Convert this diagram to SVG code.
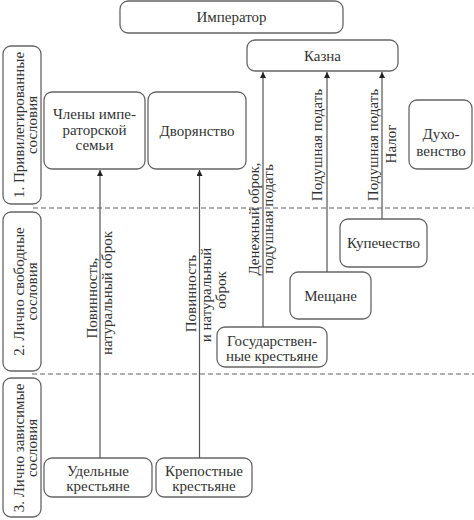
<svg xmlns="http://www.w3.org/2000/svg" width="474" height="520" viewBox="0 0 474 520">
<style>
.box{fill:#fff;stroke:#666;stroke-width:1.3}
.t{font-family:"Liberation Serif","DejaVu Serif",serif;font-size:15px;fill:#333;text-anchor:middle}
.conn{stroke:#555;stroke-width:1.2;fill:none}
.dash{stroke:#666;stroke-width:1.2;stroke-dasharray:5 3;fill:none}
</style>
<defs>
<marker id="ah" viewBox="0 0 10 10" refX="10" refY="5" markerWidth="8" markerHeight="6" markerUnits="userSpaceOnUse" orient="auto">
<path d="M0,0 L10,5 L0,10 Z" fill="#222"/>
</marker>
</defs>
<rect width="474" height="520" fill="#fff"/>

<g id="dividers">
<line class="dash" x1="33" y1="208" x2="474" y2="208"/>
<line class="dash" x1="32" y1="374" x2="474" y2="374"/>
</g>

<g id="side1">
<rect class="box" x="3" y="46" width="38" height="158" rx="8"/>
<text class="t" transform="rotate(-90)" x="-125" y="24">1. Привилегированные</text>
<text class="t" transform="rotate(-90)" x="-125" y="37">сословия</text>
</g>
<g id="side2">
<rect class="box" x="3" y="212" width="38" height="159" rx="8"/>
<text class="t" transform="rotate(-90)" x="-291.5" y="24">2. Лично свободные</text>
<text class="t" transform="rotate(-90)" x="-291.5" y="37">сословия</text>
</g>
<g id="side3">
<rect class="box" x="3" y="378" width="38" height="139" rx="8"/>
<text class="t" transform="rotate(-90)" x="-448" y="24">3. Лично зависимые</text>
<text class="t" transform="rotate(-90)" x="-448" y="37">сословия</text>
</g>

<g id="imperator">
<rect class="box" x="120" y="1" width="223" height="32" rx="8"/>
<text class="t" x="231.5" y="22">Император</text>
</g>
<g id="kazna">
<rect class="box" x="247" y="40" width="151" height="31" rx="8"/>
<text class="t" x="322.5" y="60.5">Казна</text>
</g>
<g id="chleny">
<rect class="box" x="44" y="92" width="101" height="77" rx="8"/>
<text class="t" x="94.5" y="119">Члены импе-</text>
<text class="t" x="94.5" y="134.5">раторской</text>
<text class="t" x="94.5" y="150">семьи</text>
</g>
<g id="dvoryanstvo">
<rect class="box" x="148" y="92" width="98" height="77" rx="8"/>
<text class="t" x="197" y="135.5">Дворянство</text>
</g>
<g id="duhovenstvo">
<rect class="box" x="409" y="100" width="63" height="69" rx="8"/>
<text class="t" x="441" y="139">Духо-</text>
<text class="t" x="441" y="155.5">венство</text>
</g>
<g id="kupechestvo">
<rect class="box" x="340" y="219" width="87" height="48" rx="8"/>
<text class="t" x="383.5" y="248">Купечество</text>
</g>
<g id="meshchane">
<rect class="box" x="290" y="272" width="81" height="47" rx="8"/>
<text class="t" x="330.5" y="301">Мещане</text>
</g>
<g id="gos_krestyane">
<rect class="box" x="217" y="327" width="110" height="40" rx="8"/>
<text class="t" x="272" y="346">Государствен-</text>
<text class="t" x="272" y="361">ные крестьяне</text>
</g>
<g id="udelnye">
<rect class="box" x="44" y="458" width="108" height="39" rx="8"/>
<text class="t" x="98" y="476">Удельные</text>
<text class="t" x="98" y="491">крестьяне</text>
</g>
<g id="krepostnye">
<rect class="box" x="156" y="458" width="96" height="39" rx="8"/>
<text class="t" x="204" y="476">Крепостные</text>
<text class="t" x="204" y="491">крестьяне</text>
</g>

<g id="connectors">
<line class="conn" x1="100" y1="458" x2="100" y2="170" marker-end="url(#ah)"/>
<line class="conn" x1="199.5" y1="458" x2="199.5" y2="170" marker-end="url(#ah)"/>
<line class="conn" x1="263" y1="327" x2="263" y2="72" marker-end="url(#ah)"/>
<line class="conn" x1="327" y1="272" x2="327" y2="72" marker-end="url(#ah)"/>
<line class="conn" x1="382" y1="219" x2="382" y2="72" marker-end="url(#ah)"/>
<text class="t" transform="rotate(-90)" x="-298" y="97">Повинность,</text>
<text class="t" transform="rotate(-90)" x="-293" y="112">натуральный оброк</text>
<text class="t" transform="rotate(-90)" x="-293.5" y="196">Повинность</text>
<text class="t" transform="rotate(-90)" x="-295" y="211">и натуральный</text>
<text class="t" transform="rotate(-90)" x="-290" y="226">оброк</text>
<text class="t" transform="rotate(-90)" x="-219" y="259">Денежный оброк,</text>
<text class="t" transform="rotate(-90)" x="-219" y="273">подушная подать</text>
<text class="t" transform="rotate(-90)" x="-145" y="322">Подушная подать</text>
<text class="t" transform="rotate(-90)" x="-145" y="378">Подушная подать</text>
<text class="t" transform="rotate(-90)" x="-144" y="396">Налог</text>
</g>
</svg>
